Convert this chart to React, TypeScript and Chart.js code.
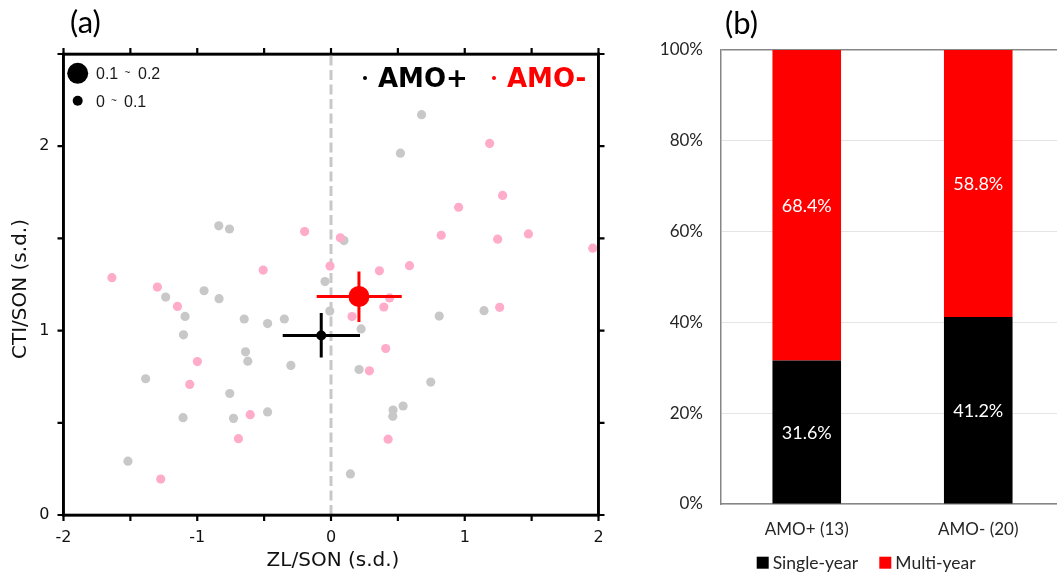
import React, { useEffect, useRef } from 'react';
import { Chart, registerables } from 'chart.js';

Chart.register(...registerables);

// ---------- Panel (a) data ----------
const amoPlusX = [-0.839, -0.759, -0.045, 0.677, 0.519, 0.097, -1.236, -0.949, -0.837, -1.091, -0.649, -0.474, -0.349, -0.009, -1.103, -0.639, -0.622, -0.300, -1.386, -0.757, -1.106, -0.729, -0.474, -1.518, 0.225, 0.809, 1.144, 0.210, 0.746, 0.539, 0.464, 0.462, 0.145];
const amoPlusY = [1.568, 1.551, 1.266, 2.171, 1.962, 1.488, 1.182, 1.216, 1.173, 1.077, 1.063, 1.038, 1.063, 1.106, 0.977, 0.885, 0.834, 0.811, 0.739, 0.659, 0.528, 0.524, 0.559, 0.292, 1.009, 1.079, 1.108, 0.789, 0.721, 0.591, 0.569, 0.535, 0.223];

const amoMinusX = [0.070, -0.197, -0.507, -0.007, -1.638, 1.186, 1.283, 0.954, 0.824, 1.246, 1.476, 1.957, 0.362, 0.587, -1.298, -1.148, -0.999, -1.056, -0.604, -0.692, -1.273, 0.438, 0.395, 0.157, 1.261, 0.409, 0.287, 0.427];
const amoMinusY = [1.503, 1.537, 1.328, 1.350, 1.287, 2.015, 1.733, 1.669, 1.517, 1.496, 1.524, 1.447, 1.324, 1.352, 1.236, 1.131, 0.832, 0.708, 0.544, 0.414, 0.195, 1.177, 1.128, 1.076, 1.126, 0.903, 0.782, 0.411];

const meanPlus = { x: -0.073, y: 0.973 };
const meanPlusXRange = [-0.361, 0.217];
const meanPlusYRange = [0.854, 1.095];

const meanMinus = { x: 0.209, y: 1.185 };
const meanMinusXRange = [-0.107, 0.529];
const meanMinusYRange = [1.046, 1.320];

const xTickValuesA = [-2, -1.5, -1, -0.5, 0, 0.5, 1, 1.5, 2];
const yTickValuesA = [0, 0.5, 1, 1.5, 2, 2.5];

// ---------- Panel (b) data ----------
const barCategories = ['AMO+ (13)', 'AMO- (20)'];
const singleYear = [31.6, 41.2];
const multiYear = [68.4, 58.8];
const yTicksB = [0, 20, 40, 60, 80, 100];

const GRAY = '#c8c8c8';
const PINK = '#ffabca';

const toPts = (xs: number[], ys: number[]) => xs.map((x, i) => ({ x, y: ys[i] }));

const FRAME = { display: true, color: '#000000', width: 2.6 };

const panelAPlugin = {
  id: 'panelADecor',
  afterDraw(chart: any) {
    const { ctx, chartArea: a, scales } = chart;
    const x = scales.x;
    const y = scales.y;
    ctx.save();
    ctx.setLineDash([]);
    ctx.globalAlpha = 1;
    ctx.globalCompositeOperation = 'source-over';
    // frame
    ctx.fillStyle = '#000000';
    const w = 2.6;
    ctx.fillRect(a.left - w / 2, a.top - w / 2, a.right - a.left + w, w);
    ctx.fillRect(a.left - w / 2, a.bottom - w / 2, a.right - a.left + w, w);
    ctx.fillRect(a.left - w / 2, a.top - w / 2, w, a.bottom - a.top + w);
    ctx.fillRect(a.right - w / 2, a.top - w / 2, w, a.bottom - a.top + w);
    // outward tick marks on all four sides
    ctx.strokeStyle = '#000000';
    ctx.lineWidth = 2.2;
    ctx.beginPath();
    for (const v of xTickValuesA) {
      const px = x.getPixelForValue(v);
      ctx.moveTo(px, a.bottom);
      ctx.lineTo(px, a.bottom + 6);
      ctx.moveTo(px, a.top);
      ctx.lineTo(px, a.top - 6);
    }
    for (const v of yTickValuesA) {
      const py = y.getPixelForValue(v);
      ctx.moveTo(a.left - 6, py);
      ctx.lineTo(a.left, py);
      ctx.moveTo(a.right, py);
      ctx.lineTo(a.right + 6, py);
    }
    ctx.stroke();

    // panel label
    ctx.fillStyle = '#000';
    ctx.textBaseline = 'middle';
    ctx.textAlign = 'left';
    ctx.font = '31px Lato';
    ctx.fillText('(a)', 70, 23);

    // axis titles
    ctx.font = '20px "DejaVu Sans"';
    ctx.textAlign = 'center';
    ctx.fillStyle = '#111';
    ctx.fillText('ZL/SON (s.d.)', (a.left + a.right) / 2 + 2, 561);
    ctx.save();
    ctx.translate(21, 289);
    ctx.rotate(-Math.PI / 2);
    ctx.fillText('CTI/SON (s.d.)', 0, 0);
    ctx.restore();

    // size legend
    ctx.fillStyle = '#000';
    ctx.beginPath();
    ctx.arc(77.7, 73.3, 10.5, 0, Math.PI * 2);
    ctx.fill();
    ctx.beginPath();
    ctx.arc(77.7, 100.7, 5, 0, Math.PI * 2);
    ctx.fill();
    ctx.textAlign = 'left';
    ctx.textBaseline = 'alphabetic';
    ctx.fillStyle = '#1a1a1a';
    ctx.font = '16px "Liberation Sans"';
    ctx.fillText('0.1', 96, 79);
    ctx.fillText('0.2', 138, 79);
    ctx.fillText('0', 96, 106.5);
    ctx.fillText('0.1', 124, 106.5);
    ctx.font = '10px "Liberation Sans"';
    ctx.fillText('~', 124.5, 76);
    ctx.fillText('~', 111, 104);

    // group legend
    ctx.font = 'bold 26px "DejaVu Sans"';
    ctx.fillStyle = '#000';
    ctx.beginPath();
    ctx.arc(365, 78, 2, 0, Math.PI * 2);
    ctx.fill();
    ctx.fillText('AMO+', 378, 86.5);
    ctx.fillStyle = '#ff0000';
    ctx.beginPath();
    ctx.arc(494, 78, 2, 0, Math.PI * 2);
    ctx.fill();
    ctx.fillText('AMO-', 507, 86.5);
    ctx.restore();
  },
};

const panelBPlugin = {
  id: 'panelBDecor',
  afterDraw(chart: any) {
    const { ctx } = chart;
    ctx.save();
    // value labels centred in each segment
    ctx.font = '18px Lato';
    ctx.fillStyle = '#ffffff';
    ctx.textAlign = 'center';
    ctx.textBaseline = 'middle';
    chart.data.datasets.forEach((ds: any, di: number) => {
      const meta = chart.getDatasetMeta(di);
      meta.data.forEach((bar: any, i: number) => {
        const p = bar.getProps(['x', 'y', 'base'], true);
        ctx.fillText(ds.data[i].toFixed(1) + '%', p.x, (p.y + p.base) / 2 + 1);
      });
    });

    // panel label
    ctx.fillStyle = '#000';
    ctx.textAlign = 'left';
    ctx.font = '31px Lato';
    ctx.fillText('(b)', 85, 24);

    // legend
    const items = [
      { label: chart.data.datasets[0].label, color: chart.data.datasets[0].backgroundColor, x: 116.7 },
      { label: chart.data.datasets[1].label, color: chart.data.datasets[1].backgroundColor, x: 239.3 },
    ];
    ctx.font = '17.5px Lato';
    for (const it of items) {
      ctx.fillStyle = it.color;
      ctx.fillRect(it.x, 556.7, 12, 12);
      ctx.fillStyle = '#262626';
      ctx.fillText(it.label, it.x + 16, 563);
    }
    ctx.restore();
  },
};

export default function App() {
  const refA = useRef<HTMLCanvasElement>(null);
  const refB = useRef<HTMLCanvasElement>(null);

  useEffect(() => {
    const chartA = new Chart(refA.current as HTMLCanvasElement, {
      type: 'scatter',
      data: {
        datasets: [
          {
            label: 'AMO- mean',
            data: [meanMinus],
            backgroundColor: '#ff0000',
            pointRadius: 10.5,
            pointBorderWidth: 0,
            order: 0,
          } as any,
          {
            label: 'AMO+ mean',
            data: [meanPlus],
            backgroundColor: '#000000',
            pointRadius: 5,
            pointBorderWidth: 0,
            order: 1,
          } as any,
          {
            label: 'AMO- x spread',
            data: [{ x: meanMinusXRange[0], y: meanMinus.y }, { x: meanMinusXRange[1], y: meanMinus.y }],
            showLine: true, borderColor: '#ff0000', borderWidth: 3, pointRadius: 0, order: 2,
          } as any,
          {
            label: 'AMO- y spread',
            data: [{ x: meanMinus.x, y: meanMinusYRange[0] }, { x: meanMinus.x, y: meanMinusYRange[1] }],
            showLine: true, borderColor: '#ff0000', borderWidth: 3, pointRadius: 0, order: 2,
          } as any,
          {
            label: 'AMO+ x spread',
            data: [{ x: meanPlusXRange[0], y: meanPlus.y }, { x: meanPlusXRange[1], y: meanPlus.y }],
            showLine: true, borderColor: '#000000', borderWidth: 3, pointRadius: 0, order: 3,
          } as any,
          {
            label: 'AMO+ y spread',
            data: [{ x: meanPlus.x, y: meanPlusYRange[0] }, { x: meanPlus.x, y: meanPlusYRange[1] }],
            showLine: true, borderColor: '#000000', borderWidth: 3, pointRadius: 0, order: 3,
          } as any,
          {
            label: 'AMO- years',
            data: toPts(amoMinusX, amoMinusY),
            backgroundColor: PINK,
            pointRadius: 4.6,
            pointBorderWidth: 0,
            order: 4,
          } as any,
          {
            label: 'AMO+ years',
            data: toPts(amoPlusX, amoPlusY),
            backgroundColor: GRAY,
            pointRadius: 4.6,
            pointBorderWidth: 0,
            order: 5,
          } as any,
          {
            label: 'zero line',
            data: [{ x: 0, y: 0 }, { x: 0, y: 2.5 }],
            showLine: true, borderColor: GRAY, borderWidth: 3, borderDash: [10, 4.5], pointRadius: 0, order: 6,
          } as any,
        ],
      },
      options: {
        responsive: false,
        animation: false,
        devicePixelRatio: 1,
        layout: { padding: { top: 54, right: 41.5, left: 0, bottom: 0 } },
        plugins: { legend: { display: false }, tooltip: { enabled: false } },
        scales: {
          x: {
            type: 'linear',
            min: -2,
            max: 2,
            grid: { display: false, drawTicks: false },
            border: FRAME,
            ticks: {
              stepSize: 0.5,
              autoSkip: false,
              maxRotation: 0,
              padding: 13,
              color: '#111',
              font: { family: 'DejaVu Sans', size: 16 },
              callback: (v: any) => (Number.isInteger(v) ? String(v) : ''),
            },
            afterFit: (s: any) => { s.height = 57; },
          },
          x2: {
            type: 'linear',
            position: 'top',
            min: -2,
            max: 2,
            grid: { display: false, drawTicks: false },
            border: FRAME,
            ticks: { display: false },
            afterFit: (s: any) => { s.height = 0; },
          },
          y: {
            type: 'linear',
            min: 0,
            max: 2.5,
            grid: { display: false, drawTicks: false },
            border: FRAME,
            ticks: {
              stepSize: 0.5,
              autoSkip: false,
              padding: 14,
              color: '#111',
              font: { family: 'DejaVu Sans', size: 16 },
              callback: (v: any) => (Number.isInteger(v) ? String(v) : ''),
            },
            afterFit: (s: any) => { s.width = 63.5; },
          },
          y2: {
            type: 'linear',
            position: 'right',
            min: 0,
            max: 2.5,
            grid: { display: false, drawTicks: false },
            border: FRAME,
            ticks: { display: false },
            afterFit: (s: any) => { s.width = 0; },
          },
        },
      } as any,
      plugins: [panelAPlugin],
    });

    const chartB = new Chart(refB.current as HTMLCanvasElement, {
      type: 'bar',
      data: {
        labels: barCategories,
        datasets: [
          { label: 'Single-year', data: singleYear, backgroundColor: '#000000', barPercentage: 0.4, categoryPercentage: 1 },
          { label: 'Multi-year', data: multiYear, backgroundColor: '#ff0000', barPercentage: 0.4, categoryPercentage: 1 },
        ],
      },
      options: {
        responsive: false,
        animation: false,
        devicePixelRatio: 1,
        layout: { padding: { top: 50, right: 0, left: 0, bottom: 0 } },
        plugins: { legend: { display: false }, tooltip: { enabled: false } },
        scales: {
          x: {
            stacked: true,
            grid: { display: false, drawTicks: false },
            border: { color: '#868686', width: 1.5 },
            ticks: { padding: 15, color: '#262626', font: { family: 'Lato', size: 17 } },
            afterFit: (s: any) => { s.height = 68; },
          },
          y: {
            stacked: true,
            min: 0,
            max: 100,
            afterBuildTicks: (s: any) => { s.ticks = yTicksB.map((v) => ({ value: v })); },
            grid: {
              drawTicks: false,
              color: (c: any) => (c.tick && c.tick.value === 100 ? '#868686' : '#e4e4e4'),
              lineWidth: (c: any) => (c.tick && c.tick.value === 100 ? 1.5 : 1),
            },
            border: { color: '#868686', width: 1.5 },
            ticks: {
              padding: 18,
              color: '#262626',
              font: { family: 'Lato', size: 17 },
              callback: (v: any) => v + '%',
            },
            afterFit: (s: any) => { s.width = 81; },
          },
        },
      } as any,
      plugins: [panelBPlugin],
    });

    return () => {
      chartA.destroy();
      chartB.destroy();
    };
  }, []);

  return (
    <div style={{ position: 'fixed', left: 0, top: 0, width: 1057, height: 572, background: '#fff', overflow: 'hidden' }}>
      <canvas ref={refA} width={640} height={572} style={{ position: 'absolute', left: 0, top: 0 }} />
      <div style={{ position: 'absolute', left: 640, top: 0, width: 417, height: 572, overflow: 'hidden' }}>
        <canvas ref={refB} width={424} height={572} style={{ position: 'absolute', left: 0, top: 0 }} />
      </div>
    </div>
  );
}
